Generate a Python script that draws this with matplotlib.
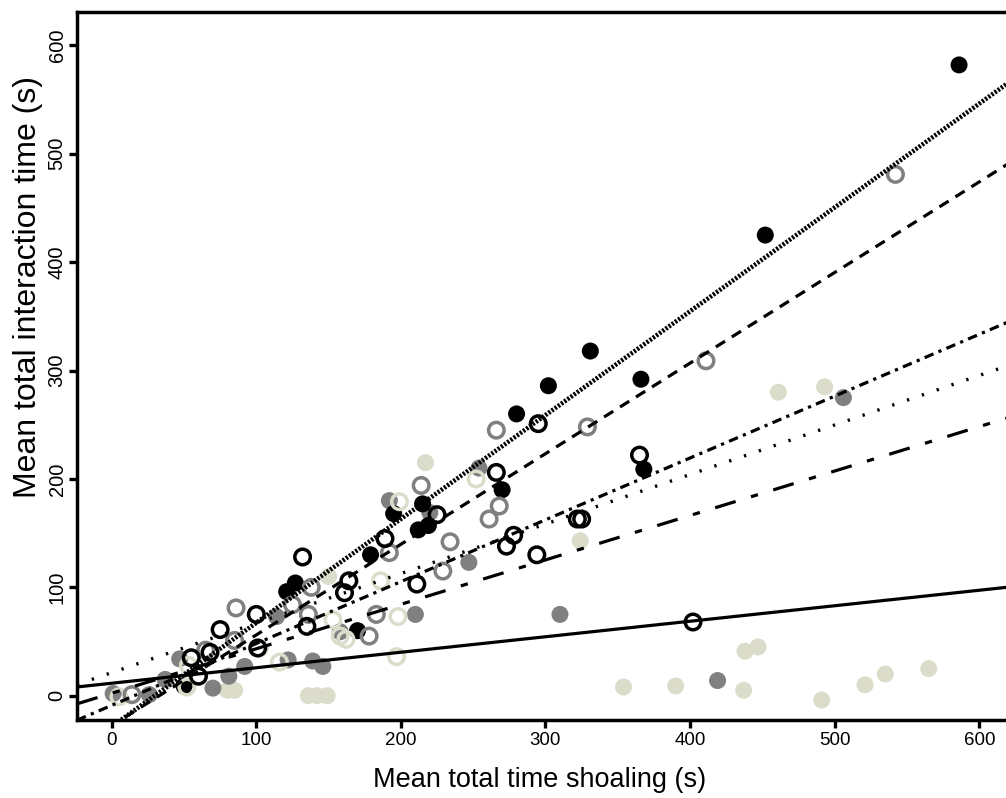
import matplotlib
matplotlib.use("Agg")
import matplotlib.pyplot as plt
from matplotlib import font_manager
import numpy as np

# ---------------- data ----------------
black_filled_x = [50, 121, 127, 170, 179, 195, 212, 215, 219, 270, 280, 302, 331, 366, 368, 452, 586]
black_filled_y = [9, 96, 104, 60, 130, 168, 153, 177, 157, 190, 260, 286, 318, 292, 209, 425, 582]

gray_filled_x = [1, 26, 37, 47, 70, 81, 92, 114, 122, 139, 146, 158, 192, 210, 220, 247, 254, 310, 419, 506]
gray_filled_y = [2, 1, 15, 34, 7, 18, 27, 73, 33, 32, 27, 59, 180, 75, 169, 123, 210, 75, 14, 275]

beige_filled_x = [80, 85, 136, 142, 149, 150, 217, 324, 354, 390, 437, 438, 447, 491, 521, 535, 565, 461, 493]
beige_filled_y = [5, 5, 0, 0, 0, 110, 215, 143, 8, 9, 5, 41, 45, -4, 10, 20, 25, 280, 285]

black_open_x = [55, 60, 68, 75, 100, 101, 132, 135, 161, 164, 189, 211, 225, 266, 273, 278, 294, 295, 322, 325, 365, 402]
black_open_y = [35, 18, 40, 61, 75, 44, 128, 64, 95, 106, 145, 103, 167, 206, 138, 148, 130, 251, 163, 163, 222, 68]

gray_open_x = [14, 65, 85, 86, 125, 136, 138, 183, 178, 192, 214, 229, 234, 261, 268, 266, 329, 411, 542]
gray_open_y = [1, 42, 51, 81, 84, 75, 100, 75, 55, 132, 194, 115, 142, 163, 175, 245, 248, 309, 481]

beige_open_x = [5, 52, 53, 102, 116, 153, 158, 162, 186, 197, 198, 199, 252]
beige_open_y = [-1, 8, 28, 44, 31, 70, 55, 52, 106, 36, 73, 179, 200]

# regression lines: intercept, slope
line_intercepts = [-28.5, -27.5, -8.9, 21.3, 2.3, 11.5]
line_slopes = [0.958, 0.836, 0.5706, 0.457, 0.41, 0.143]

x_ticks = [0, 100, 200, 300, 400, 500, 600]
y_ticks = [0, 100, 200, 300, 400, 500, 600]
x_label = "Mean total time shoaling (s)"
y_label = "Mean total interaction time (s)"

# ---------------- style ----------------
names = {f.name for f in font_manager.fontManager.ttflist}
narrow = "Liberation Sans Narrow" in names
label_font = "Liberation Sans Narrow" if narrow else "Liberation Sans"
plt.rcParams["font.family"] = ["Liberation Sans", "DejaVu Sans"]

BLACK = "#000000"
GRAY = "#808080"
BEIGE = "#dcdccb"

W, H = 1006, 798
fig = plt.figure(figsize=(W / 100, H / 100), dpi=100)
ax_l, ax_r, ax_b, ax_t = 77, 1009, 720, 12
ax = fig.add_axes([ax_l / W, 1 - ax_b / H, (ax_r - ax_l) / W, (ax_b - ax_t) / H])

x0_px, xs = 111.7, 1.446
y0_px, ys = 695.7, 1.0838
ax.set_xlim((ax_l - x0_px) / xs, (ax_r - x0_px) / xs)
ax.set_ylim((y0_px - ax_b) / ys, (y0_px - ax_t) / ys)

fs = 150
ax.scatter(beige_filled_x, beige_filled_y, s=fs, color=BEIGE, edgecolors="none", zorder=2)
ax.scatter(gray_filled_x, gray_filled_y, s=fs, color=GRAY, edgecolors="none", zorder=2)
ax.scatter(black_filled_x, black_filled_y, s=fs, color=BLACK, edgecolors="none", zorder=2)

os_ = 125
olw = 2.5
ax.scatter(beige_open_x, beige_open_y, s=os_, facecolors="none", edgecolors=BEIGE, linewidths=olw, zorder=3)
ax.scatter(gray_open_x, gray_open_y, s=os_, facecolors="none", edgecolors=GRAY, linewidths=olw, zorder=3)
ax.scatter(black_open_x, black_open_y, s=os_, facecolors="none", edgecolors=BLACK, linewidths=olw, zorder=3)

styles = [
    dict(lw=3.3, ls=(0, (0.5, 0.35))),
    dict(lw=2.3, ls=(0, (3.4, 2.5))),
    dict(lw=2.3, ls=(0, (3.0, 1.7, 1.0, 1.7))),
    dict(lw=2.4, ls=(0, (0.7, 4.0))),
    dict(lw=2.3, ls=(0, (6.7, 5.0, 2.3, 5.0))),
    dict(lw=2.3, ls="-"),
]
xl = np.array(ax.get_xlim())
for b0, b1, st in zip(line_intercepts, line_slopes, styles):
    ax.plot(xl, b0 + b1 * xl, color=BLACK, linewidth=st["lw"], linestyle=st["ls"],
            dash_capstyle="butt", zorder=4)

for side in ["left", "bottom", "top"]:
    ax.spines[side].set_linewidth(2.5)
ax.spines["right"].set_visible(False)

ax.set_xticks(x_ticks)
ax.set_yticks(y_ticks)
ax.tick_params(axis="both", direction="out", length=5.5, width=2.4, color=BLACK)
ax.tick_params(axis="x", pad=3, labelsize=13.5)
ax.tick_params(axis="y", pad=2, labelsize=14.5)
for t in ax.get_yticklabels():
    t.set_rotation(90)
    t.set_va("center")

xfs = 23 if narrow else 19.5
yfs = 26 if narrow else 23
ax.set_xlabel(x_label, fontsize=xfs, family=[label_font, "DejaVu Sans"])
ax.set_ylabel(y_label, fontsize=yfs, family=[label_font, "DejaVu Sans"])
ax.xaxis.set_label_coords((540 - ax_l) / (ax_r - ax_l), -(780 - ax_b) / (ax_b - ax_t))
ax.yaxis.set_label_coords(-(77 - 28) / (ax_r - ax_l), (ax_b - 287) / (ax_b - ax_t))
ax.xaxis.label.set_va("center")
ax.yaxis.label.set_va("center")

fig.savefig("out.png", dpi=100)
